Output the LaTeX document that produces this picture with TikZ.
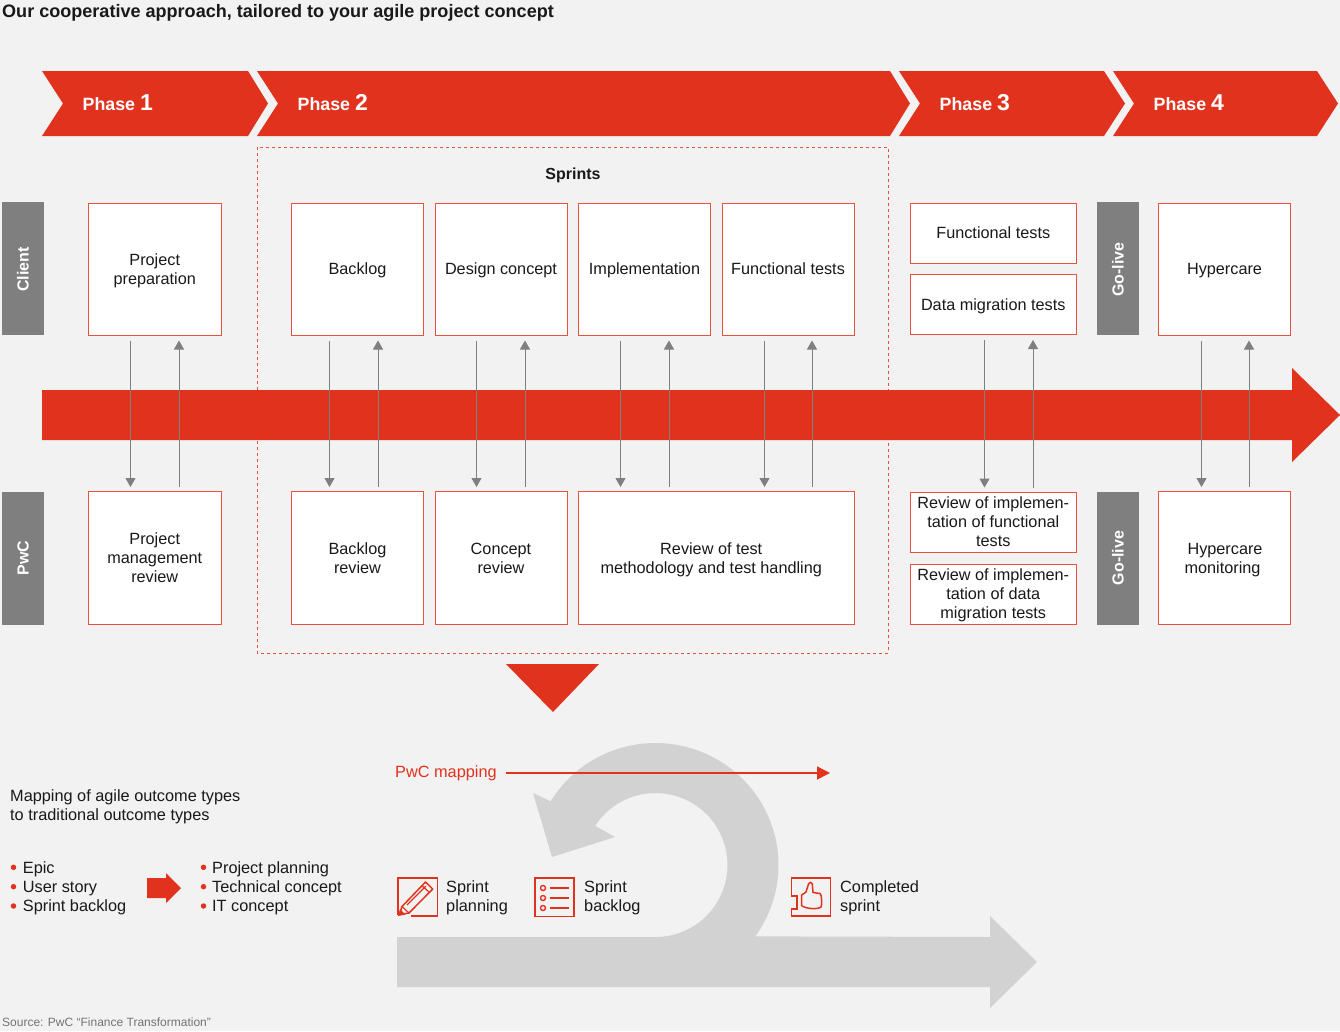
\documentclass[tikz,border=0pt]{standalone}
\usepackage{fontspec}
\setmainfont{Liberation Sans}
\usetikzlibrary{arrows.meta,calc}
\definecolor{pwcred}{HTML}{E1321E}
\definecolor{bgc}{HTML}{F2F2F2}
\definecolor{tagc}{HTML}{7F7F7F}
\definecolor{loopc}{HTML}{D2D2D2}
\newcommand{\tcen}[1]{\raisebox{-6.5pt}[0pt][0pt]{\begin{tabular}{@{}c@{}}#1\end{tabular}}}
\newcommand{\tlef}[1]{\raisebox{-6.5pt}[0pt][0pt]{\begin{tabular}{@{}l@{}}#1\end{tabular}}}
\tikzset{
 boxn/.style={draw=pwcred!85!white,line width=1pt,fill=white,minimum width=#1,inner sep=1pt,font=\fontsize{16.25}{19}\selectfont,text=black!90},
 boxn/.default=132pt,
 tagn/.style={fill=tagc,minimum width=42pt,minimum height=133pt,inner sep=0,text=white},
 tagtxt/.style={text=white,rotate=90,font=\bfseries\fontsize{16}{19}\selectfont,inner sep=0},
 phasetxt/.style={text=white,anchor=base west,inner sep=0,font=\bfseries\fontsize{17.8}{20}\selectfont},
 plain/.style={anchor=west,inner sep=0,font=\fontsize{16.3}{19}\selectfont,text=black!90},
 conn/.style={draw=tagc,line width=1pt,-{Triangle[width=10pt,length=9pt]}},
 bdot/.style={circle,fill=pwcred,inner sep=0,minimum size=5.5pt},
 icon/.style={draw=pwcred,line width=1.7pt,line join=miter},
}
\newcommand{\phasechev}[6]{% left notch right tip name digit
 \fill[pwcred] (#1,71) -- (#3,71) -- (#4,103.5) -- (#3,136) -- (#1,136) -- (#2,103.5) -- cycle;
 \node[phasetxt] (#5) at ({#2+19.5},110) {Phase {\fontsize{23}{24}\selectfont #6}};
}
\newcommand{\pairarrows}[6]{% top box, bottom box, top xshift dn, bottom xshift dn, bottom xshift up, top xshift up
 \draw[conn,shorten <=5pt,shorten >=4pt] ([xshift=#3pt]#1.south) -- ([xshift=#4pt]#2.north);
 \draw[conn,shorten <=4pt,shorten >=5pt] ([xshift=#5pt]#2.north) -- ([xshift=#6pt]#1.south);
}
\begin{document}
\begin{tikzpicture}[x=1pt,y=-1pt]
\fill[bgc] (0,0) rectangle (1340,1031);
\useasboundingbox (0,0) rectangle (1340,1031);

\node[anchor=base west,inner sep=0,font=\bfseries\fontsize{18.05}{20}\selectfont,text=black!90] (title) at (2,17) {Our cooperative approach, tailored to your agile project concept};

\phasechev{42}{63}{248}{268}{ph1}{1}
\phasechev{257}{278}{890}{910}{ph2}{2}
\phasechev{899}{920}{1104}{1125}{ph3}{3}
\phasechev{1113}{1134}{1317}{1338}{ph4}{4}

% sprints frame
\draw[pwcred!85!white,line width=1pt,dash pattern=on 3pt off 3pt] (257,147) rectangle (888,653);
\node[inner sep=0,font=\bfseries\fontsize{16}{19}\selectfont,text=black!90] (sprints) at (573,175) {Sprints};

% main arrow
\fill[pwcred] (42,390) -- (1292,390) -- (1292,368) -- (1340,415) -- (1292,462) -- (1292,440) -- (42,440) -- cycle;

% tags
\node[tagn] (tagc1) at (23,268.5) {};
\node[tagtxt] at (23,269.5) {Client};
\node[tagn] (tagp1) at (23,558) {};
\node[tagtxt] at (tagp1) {PwC};
\node[tagn] (tagg1) at (1118,268.5) {};
\node[tagtxt] at (1118,269.5) {Go-live};
\node[tagn] (tagg2) at (1118,558) {};
\node[tagtxt] at (tagg2) {Go-live};

% upper boxes
\node[boxn=132.5pt,minimum height=132pt] (c1) at (154.75,269) {\tcen{Project\\preparation}};
\node[boxn,minimum height=132pt] (c2) at (357.5,269) {\tcen{Backlog}};
\node[boxn,minimum height=132pt] (c3) at (501,269) {\tcen{Design concept}};
\node[boxn,minimum height=132pt] (c4) at (644.5,269) {\tcen{Implementation}};
\node[boxn,minimum height=132pt] (c5) at (788,269) {\tcen{Functional tests}};
\node[boxn=165.5pt,minimum height=60pt] (c6) at (993.25,233) {\tcen{Functional tests}};
\node[boxn=165.5pt,minimum height=60pt] (c7) at (993.25,304.5) {\tcen{Data migration tests}};
\node[boxn,minimum height=132pt] (c8) at (1224.5,269) {\tcen{Hypercare}};

% lower boxes
\node[boxn=132.5pt,minimum height=133pt] (p1) at (154.75,558) {\tcen{Project\\management\\review}};
\node[boxn,minimum height=133pt] (p2) at (357.5,558) {\tcen{Backlog\\review}};
\node[boxn,minimum height=133pt] (p3) at (501,558) {\tcen{Concept\\review}};
\node[boxn=275.5pt,minimum height=133pt] (p4) at (716.25,558) {\tcen{\hspace*{-10pt}Review of test\\\hspace*{-10pt}methodology and test handling}};
\node[boxn=165.5pt,minimum height=60pt] (p5) at (993.25,522) {\tcen{Review of implemen-\\tation of functional\\tests}};
\node[boxn=165.5pt,minimum height=60pt] (p6) at (993.25,594) {\tcen{Review of implemen-\\tation of data\\migration tests}};
\node[boxn,minimum height=133pt] (p7) at (1224.5,558) {\tcen{Hypercare\hspace*{-1pt}\\monitoring\hspace*{4pt}}};

% connectors
\pairarrows{c1}{p1}{-24.25}{-24.25}{24.25}{24.25}
\pairarrows{c2}{p2}{-28}{-28}{20.5}{20.5}
\pairarrows{c3}{p3}{-24.5}{-24.5}{24}{24}
\pairarrows{c4}{p4}{-24}{-95.75}{-47.25}{24.5}
\pairarrows{c5}{p4}{-23.5}{48.25}{95.75}{24}
\pairarrows{c7}{p5}{-8.75}{-8.75}{39.75}{39.75}
\pairarrows{c8}{p7}{-23}{-23}{24.5}{24.5}

% down triangle
\fill[pwcred] (506,664) -- (599,664) -- (553,712) -- cycle;

% loop arrow
\fill[loopc] (397,937) -- (655.5,937)
 -- plot[domain=90:-147,samples=70] ({655.5+72*cos(\x)},{865+72*sin(\x)})
 -- (615,837) -- (552,857) -- (533,793) -- (552,802)
 -- plot[domain=-148.5:35.8,samples=70] ({655.5+123*cos(\x)},{865+122*sin(\x)})
 -- (990,937) -- (990,916) -- (1037,962) -- (990,1008) -- (990,987) -- (397,987) -- cycle;

% PwC mapping
\node[plain,text=pwcred] (map) at (395,772) {\tlef{PwC mapping}};
\coordinate (mapstart) at (506,773);
\coordinate (mapend) at (830,773);
\draw[pwcred,line width=1.5pt,-{Triangle[width=13pt,length=13pt]}] (mapstart) -- (mapend);

% mapping text
\node[plain] (m1) at (10,805.5) {\tlef{Mapping of agile outcome types\\to traditional outcome types}};
\node[plain] (l1) at (22.7,887) {\tlef{Epic\\User story\\Sprint backlog}};
\node[bdot] at (13.5,867.3) {};
\node[bdot] at (13.5,886.7) {};
\node[bdot] at (13.5,906) {};
\node[plain] (l2) at (212,887) {\tlef{Project planning\\Technical concept\\IT concept}};
\node[bdot] at (203.5,867.3) {};
\node[bdot] at (203.5,886.7) {};
\node[bdot] at (203.5,906) {};
\fill[pwcred] (147,878) -- (166,878) -- (166,873) -- (181,888) -- (166,903) -- (166,898) -- (147,898) -- cycle;

% icon: pencil
\draw[icon] (398,915) -- (398,877.7) -- (437.5,877.7) -- (437.5,916) -- (411,916);
\draw[icon,line width=1.5pt,line join=round] (399.5,914.5) -- (402,906.5) -- (425.5,882) -- (432.7,889) -- (409,913) -- cycle;
\draw[icon,line width=1.2pt] (402,906.5) -- (409,913) (422,885.5) -- (429.5,892.5) (407,905) -- (426,886);
\fill[pwcred] (398,916) -- (400,909) -- (405.5,914.5) -- cycle;
\node[plain] (t1) at (446,896.5) {\tlef{Sprint\\planning}};

% icon: list
\draw[icon] (535,878) rectangle (574,916.5);
\foreach \yy in {888,898,908}{
 \draw[pwcred,line width=1.4pt,fill=none] (543,\yy) circle (2.5pt);
 \draw[pwcred,line width=1.7pt] (549.5,\yy) -- (569,\yy);
}
\node[plain] (t2) at (584,896.5) {\tlef{Sprint\\backlog}};

% icon: thumb
\draw[icon] (791.5,895.7) -- (791.5,878) -- (830.5,878) -- (830.5,916) -- (791.5,916) -- (791.5,909) -- (797.3,909) -- (797.3,895.7) -- cycle;
\draw[icon,line width=1.5pt,line join=round] (801.7,895) -- (806,892) -- (808.5,884) .. controls (809,881.5) and (812,881.5) .. (812.3,884) -- (813,892.5) -- (820,893.5) .. controls (822,894) and (822,906) .. (821,907) .. controls (818,909.5) and (806,909) .. (801.7,905.7) -- cycle;
\node[plain] (t3) at (840,896.5) {\tlef{Completed\\sprint}};

\node[anchor=base west,inner sep=0,font=\fontsize{12}{14}\selectfont,text=black!55] (src) at (2,1026) {Source: PwC “Finance Transformation”};
\end{tikzpicture}
\end{document}
